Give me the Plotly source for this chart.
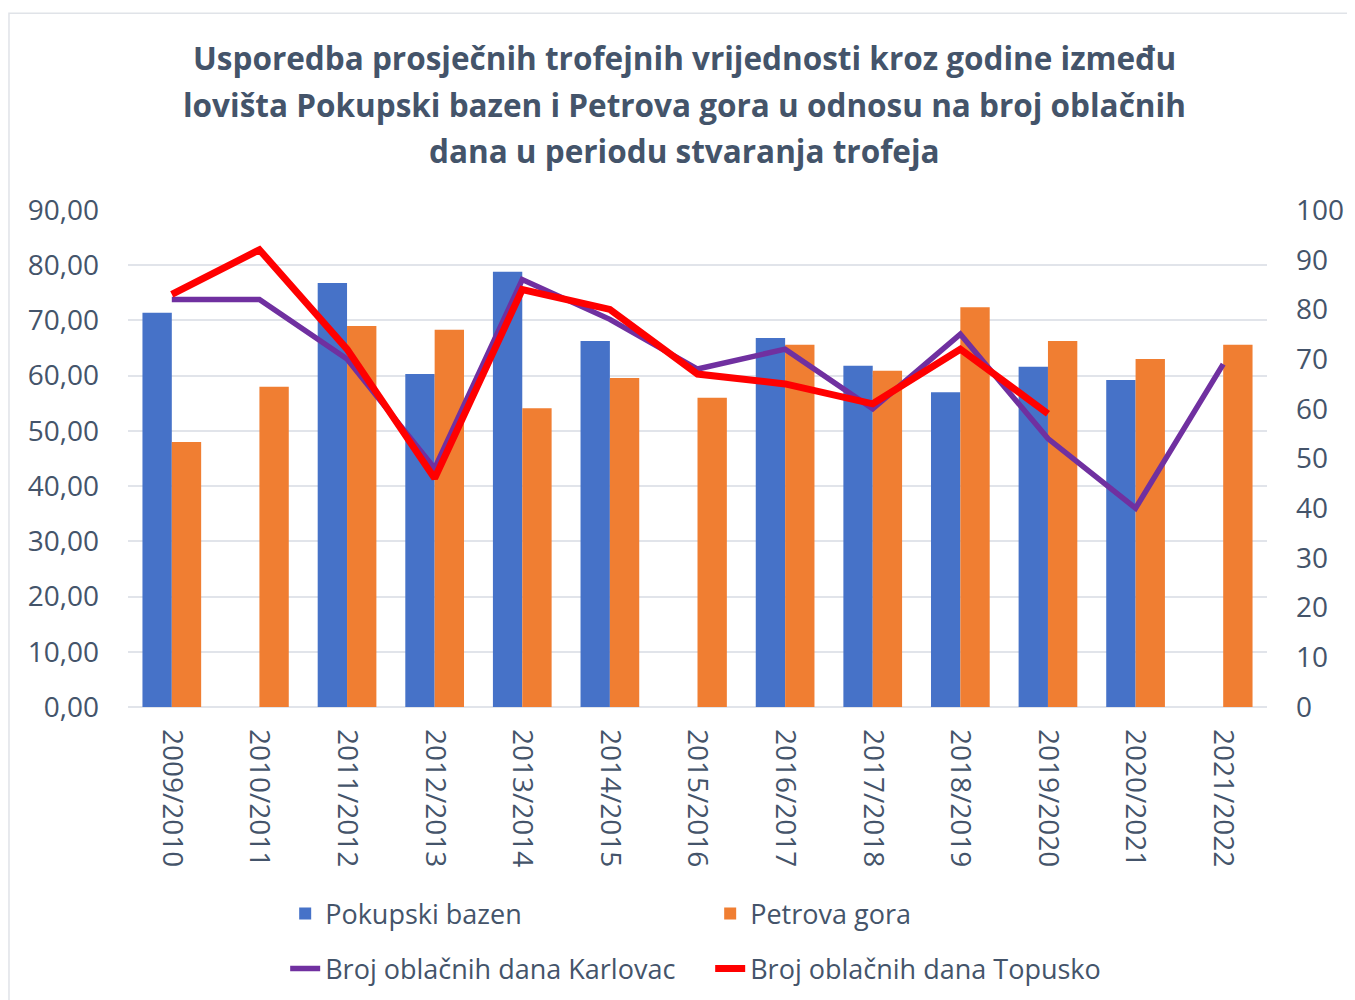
import plotly.graph_objects as go

seasons = ["2009/2010", "2010/2011", "2011/2012", "2012/2013", "2013/2014", "2014/2015",
           "2015/2016", "2016/2017", "2017/2018", "2018/2019", "2019/2020", "2020/2021", "2021/2022"]
pokupski = [71.4, None, 76.8, 60.3, 78.8, 66.3, None, 66.8, 61.8, 57.0, 61.6, 59.2, None]
petrova = [48.0, 58.0, 69.0, 68.3, 54.1, 59.6, 56.0, 65.6, 60.9, 72.4, 66.3, 63.0, 65.6]
karlovac = [82, 82, 70, 48, 86, 78, 68, 72, 60, 75, 54, 40, 69]
topusko = [83, 92, 72, 46, 84, 80, 67, 65, 61, 72, 59, None, None]

title_lines = ["Usporedba prosječnih trofejnih vrijednosti kroz godine između",
               "lovišta Pokupski bazen i Petrova gora u odnosu na broj oblačnih",
               "dana u periodu stvaranja trofeja"]

FONT = "Open Sans"
TXT = "#44546A"

fig = go.Figure()
fig.add_trace(go.Bar(x=seasons, y=pokupski, name="Pokupski bazen",
                     marker=dict(color="#4672C8", line=dict(width=0)), legend="legend"))
fig.add_trace(go.Bar(x=seasons, y=petrova, name="Petrova gora",
                     marker=dict(color="#F07E32", line=dict(width=0)), legend="legend"))
fig.add_trace(go.Scatter(x=seasons, y=karlovac, name="Broj oblačnih dana Karlovac", yaxis="y2",
                         mode="lines", line=dict(color="#7030A0", width=5.5), legend="legend2"))
fig.add_trace(go.Scatter(x=seasons, y=topusko, name="Broj oblačnih dana Topusko", yaxis="y2",
                         mode="lines", line=dict(color="#FF0000", width=7), legend="legend2",
                         connectgaps=False))

ys = [1.306, 1.213, 1.119]
for t, yv in zip(title_lines, ys):
    fig.add_annotation(text=f"<b>{t}</b>", x=0.489, y=yv, xref="paper", yref="paper",
                       xanchor="center", yanchor="middle", showarrow=False,
                       font=dict(family=FONT, size=31.5, color=TXT))

fig.add_shape(type="rect", xref="paper", yref="paper", x0=-0.1045, x1=1.09, y0=-0.62, y1=1.396,
              line=dict(color="#E0E3E8", width=1.5), fillcolor="rgba(0,0,0,0)", layer="below")

fig.update_layout(
    width=1355, height=1000,
    margin=dict(l=120, r=96, t=202, b=301),
    paper_bgcolor="white", plot_bgcolor="white",
    separators=",.",
    barmode="group", bargap=0.33, bargroupgap=0,
    font=dict(family=FONT, color=TXT),
    xaxis=dict(type="category", range=[-0.5, 12.5], tickangle=90, showgrid=False,
               showline=False, ticks="", tickfont=dict(size=28, color=TXT),
               ticklabelstandoff=21),
    yaxis=dict(range=[0, 90], dtick=10, tickformat=".2f", showgrid=True,
               gridcolor="#E1E4EA", gridwidth=1.5, zeroline=True, zerolinecolor="#E1E4EA",
               zerolinewidth=1.5, ticks="", tickfont=dict(size=28, color=TXT),
               ticklabelstandoff=28),
    yaxis2=dict(range=[0, 100], dtick=10, overlaying="y", side="right", showgrid=False,
                zeroline=False, ticks="", tickfont=dict(size=28, color=TXT),
                ticklabelstandoff=28),
    legend=dict(orientation="h", x=0.138, y=-0.4165, xanchor="left", yanchor="middle",
                entrywidth=380, font=dict(size=27, color=TXT), bgcolor="rgba(0,0,0,0)"),
    legend2=dict(orientation="h", x=0.138, y=-0.527, xanchor="left", yanchor="middle",
                 entrywidth=380, font=dict(size=27, color=TXT), bgcolor="rgba(0,0,0,0)"),
    showlegend=True,
)

fig.write_html("out.html")
